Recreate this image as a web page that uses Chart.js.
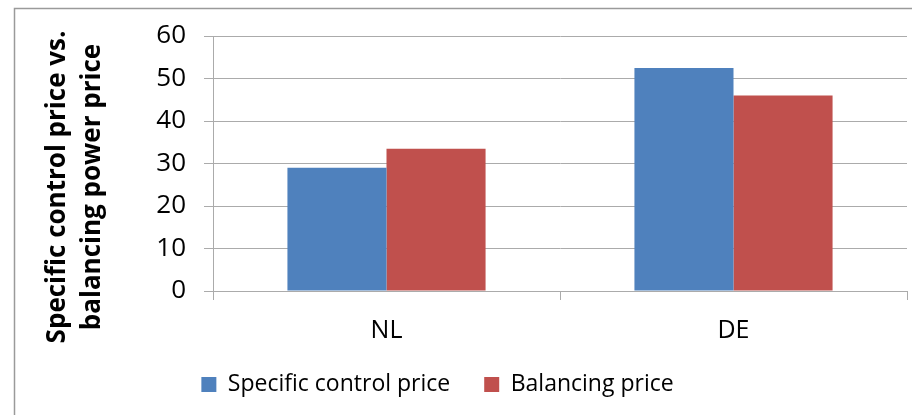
<!DOCTYPE html>
<html>
<head>
<meta charset="utf-8">
<script src="https://cdn.jsdelivr.net/npm/chart.js@4/dist/chart.umd.min.js"></script>
<style>
  html, body { margin: 0; padding: 0; background: #fff; }
  #wrap { position: relative; width: 912px; height: 415px; }
</style>
</head>
<body>
<div id="wrap"><canvas id="chart" width="912" height="415"></canvas></div>
<script>
// values
const categories = ['NL', 'DE'];
const specificControl = [29, 52.5];
const balancing = [33.5, 46];
const seriesNames = ['Specific control price', 'Balancing price'];
const axisTitle = ['Specific control price vs.', 'balancing power price'];

const BLUE = '#4F81BD';
const RED = '#C0504D';
const GRID = '#ABABAB';
const FONT = '"Open Sans", sans-serif';

// outer frame (only top + left edges are visible in the reference)
const framePlugin = {
  id: 'frame',
  afterDraw(chart) {
    const ctx = chart.ctx;
    ctx.save();
    ctx.strokeStyle = '#9A9A9A';
    ctx.lineWidth = 1.5;
    ctx.beginPath();
    ctx.moveTo(14.5, 415);
    ctx.lineTo(14.5, 8.5);
    ctx.lineTo(912, 8.5);
    ctx.stroke();
    ctx.restore();
  },
};

// two-line rotated y title, centred a bit lower than the plot like the original
const yTitlePlugin = {
  id: 'ytitle',
  afterDraw(chart) {
    const ctx = chart.ctx;
    ctx.save();
    ctx.fillStyle = '#000';
    ctx.font = 'bold 26px ' + FONT;
    ctx.textAlign = 'center';
    ctx.textBaseline = 'middle';
    [[58, axisTitle[0]], [93, axisTitle[1]]].forEach(([x, t]) => {
      ctx.save();
      ctx.translate(x, 187);
      ctx.rotate(-Math.PI / 2);
      ctx.fillText(t, 0, 0);
      ctx.restore();
    });
    ctx.restore();
  },
};

// legend a little left of centre; let the x labels spill past the thin x box
const layoutTweak = {
  id: 'layoutTweak',
  afterLayout(chart) {
    chart.legend.left -= 16;
    chart.legend.right -= 16;
    chart.scales.x.bottom += 14;
  },
};

new Chart(document.getElementById('chart'), {
  type: 'bar',
  data: {
    labels: categories,
    datasets: [
      { label: seriesNames[0], data: specificControl, backgroundColor: BLUE, borderWidth: 0 },
      { label: seriesNames[1], data: balancing, backgroundColor: RED, borderWidth: 0 },
    ],
  },
  options: {
    responsive: false,
    animation: false,
    devicePixelRatio: 1,
    layout: { padding: { top: 36, right: 5, left: 0, bottom: 9 } },
    datasets: { bar: { categoryPercentage: 0.571, barPercentage: 1 } },
    plugins: {
      legend: {
        position: 'bottom',
        labels: {
          boxWidth: 15, boxHeight: 15, padding: 34,
          color: '#000',
          font: { family: FONT, size: 23 },
        },
      },
      tooltip: { enabled: false },
    },
    scales: {
      x: {
        grid: { offset: true, drawOnChartArea: false, drawTicks: true, tickLength: 9, color: GRID },
        border: { display: false },
        ticks: { color: '#000', padding: 16, font: { family: FONT, size: 25 } },
        afterFit(s) { s.height = 48; },
      },
      y: {
        min: 0, max: 60,
        ticks: { stepSize: 10, color: '#000', padding: 18, font: { family: FONT, size: 26 } },
        grid: { color: GRID, tickLength: 9 },
        border: { display: true, color: GRID },
        afterFit(s) { s.width = 213; },
      },
    },
  },
  plugins: [framePlugin, yTitlePlugin, layoutTweak],
});
</script>
</body>
</html>
